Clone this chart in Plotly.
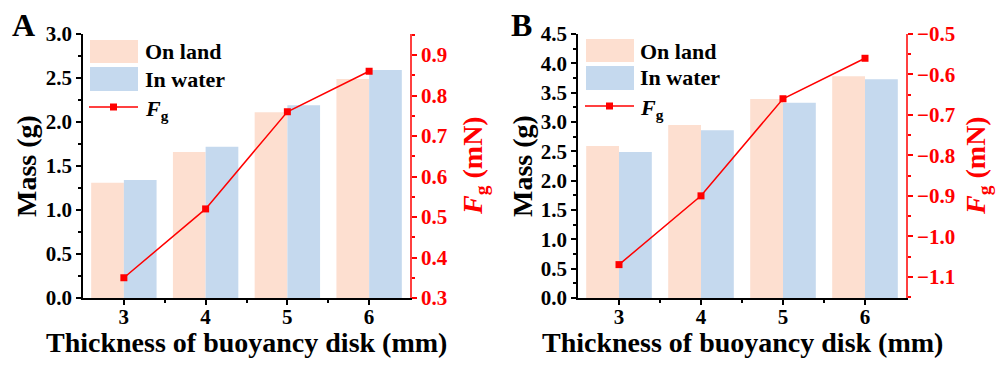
import plotly.graph_objects as go

# ---------------- data ----------------
thickness = [3, 4, 5, 6]
tick_labels = ["3", "4", "5", "6"]

a_land = [1.31, 1.66, 2.11, 2.49]
a_water = [1.34, 1.72, 2.19, 2.59]
a_fg = [0.35, 0.52, 0.76, 0.86]

b_land = [2.59, 2.95, 3.39, 3.78]
b_water = [2.49, 2.86, 3.33, 3.73]
b_fg = [-1.07, -0.90, -0.66, -0.56]

LAND = "#FDDFD0"
WATER = "#C5D9EE"
RED = "#FF0000"
FONT = "Liberation Serif"
W, H = 1000, 368

def px(x):
    return x / W

def py(y):
    return 1 - y / H

fig = go.Figure()

fig.add_trace(go.Bar(x=thickness, y=a_land, marker=dict(color=LAND, line=dict(width=0)),
                     xaxis="x", yaxis="y", name="On land", showlegend=False))
fig.add_trace(go.Bar(x=thickness, y=a_water, marker=dict(color=WATER, line=dict(width=0)),
                     xaxis="x", yaxis="y", name="In water", showlegend=False))
fig.add_trace(go.Scatter(x=thickness, y=a_fg, mode="lines+markers",
                         line=dict(color=RED, width=1.5),
                         marker=dict(symbol="square", size=7, color=RED),
                         xaxis="x", yaxis="y2", name="Fg", showlegend=False))

fig.add_trace(go.Bar(x=thickness, y=b_land, marker=dict(color=LAND, line=dict(width=0)),
                     xaxis="x2", yaxis="y3", name="On land", showlegend=False))
fig.add_trace(go.Bar(x=thickness, y=b_water, marker=dict(color=WATER, line=dict(width=0)),
                     xaxis="x2", yaxis="y3", name="In water", showlegend=False))
fig.add_trace(go.Scatter(x=thickness, y=b_fg, mode="lines+markers",
                         line=dict(color=RED, width=1.5),
                         marker=dict(symbol="square", size=7, color=RED),
                         xaxis="x2", yaxis="y4", name="Fg", showlegend=False))

ydom = [py(298), py(34)]
xa_dom = [px(83), px(410)]
xb_dom = [px(578), px(906)]

tickfont = dict(family=FONT, size=21, color="black", weight="bold")
redfont = dict(family=FONT, size=21, color=RED, weight="bold")

def xaxis_cfg(dom, anchor):
    return dict(domain=dom, anchor=anchor, range=[2.5, 6.5], tickvals=thickness,
                ticktext=tick_labels, ticks="outside", ticklen=5, tickwidth=1.5,
                tickcolor="black", showline=True, linecolor="black", linewidth=1.5,
                showgrid=False, zeroline=False, tickfont=tickfont, automargin=False,
                ticklabelstandoff=-6,
                minor=dict(tickvals=[3.5, 4.5, 5.5], ticks="outside", ticklen=3,
                           tickwidth=1.5, tickcolor="black"))

def xtop_cfg(over, anchor):
    return dict(overlaying=over, anchor=anchor, side="top", range=[2.5, 6.5],
                tickvals=thickness, ticks="inside", ticklen=5, tickwidth=1.5,
                tickcolor="black", showticklabels=False, showline=True,
                linecolor="black", linewidth=1.5, showgrid=False, zeroline=False,
                automargin=False,
                minor=dict(tickvals=[3.5, 4.5, 5.5], ticks="inside", ticklen=3,
                           tickwidth=1.5, tickcolor="black"))

def yleft_cfg(anchor, rng, dtick):
    return dict(domain=ydom, anchor=anchor, range=rng, dtick=dtick, tick0=0,
                ticks="outside", ticklen=5, tickwidth=1.5, tickcolor="black",
                showline=True, linecolor="black", linewidth=1.5, showgrid=False,
                zeroline=False, tickfont=tickfont, tickformat=".1f", automargin=False,
                minor=dict(dtick=dtick / 2, ticks="outside", ticklen=3,
                           tickwidth=1.5, tickcolor="black"))

def yright_cfg(anchor, over, rng):
    return dict(overlaying=over, anchor=anchor, side="right", range=rng, dtick=0.1,
                tick0=0.3, ticks="outside", ticklen=5, tickwidth=1.5, tickcolor=RED,
                showline=True, linecolor="#FF4040", linewidth=1.5, showgrid=False,
                zeroline=False, tickfont=redfont, tickformat=".1f", automargin=False,
                minor=dict(dtick=0.05, ticks="outside", ticklen=3, tickwidth=1.5,
                           tickcolor=RED))

fig.update_layout(
    template="none",
    width=W, height=H, margin=dict(l=0, r=0, t=0, b=0, pad=0),
    paper_bgcolor="white", plot_bgcolor="white",
    barmode="group", bargap=0.2, bargroupgap=0,
    xaxis=xaxis_cfg(xa_dom, "y"),
    xaxis2=xaxis_cfg(xb_dom, "y3"),
    xaxis3=xtop_cfg("x", "y"),
    xaxis4=xtop_cfg("x2", "y3"),
    yaxis=yleft_cfg("x", [0, 3.0], 0.5),
    yaxis2=yright_cfg("x", "y", [0.3, 0.952]),
    yaxis3=yleft_cfg("x2", [0, 4.5], 0.5),
    yaxis4=yright_cfg("x2", "y3", [-1.1525, -0.5]),
    showlegend=False,
)

ann = []
def text(x, y, s, size, color="black", angle=0, xanchor="center", yanchor="middle"):
    ann.append(dict(x=px(x), y=py(y), xref="paper", yref="paper", text=s, showarrow=False,
                    textangle=angle, xanchor=xanchor, yanchor=yanchor,
                    font=dict(family=FONT, size=size, color=color, weight="bold")))

# panel letters
text(23, 25, "A", 32)
text(521, 25, "B", 32)
# axis titles
text(246.5, 342, "Thickness of buoyancy disk (mm)", 28)
text(742, 342, "Thickness of buoyancy disk (mm)", 28)
text(26, 166, "Mass (g)", 28, angle=-90)
text(522, 166, "Mass (g)", 28, angle=-90)
text(474, 166, "<i>F</i><sub>g</sub> (mN)", 28, color=RED, angle=-90)
text(977, 166, "<i>F</i><sub>g</sub> (mN)", 28, color=RED, angle=-90)

# legends
shapes = []
def legend(x0, y0, tx):
    shapes.append(dict(type="rect", xref="paper", yref="paper", x0=px(x0), x1=px(x0 + 48),
                       y0=py(y0), y1=py(y0 + 23), fillcolor=LAND, line=dict(width=0)))
    shapes.append(dict(type="rect", xref="paper", yref="paper", x0=px(x0), x1=px(x0 + 48),
                       y0=py(y0 + 27), y1=py(y0 + 51), fillcolor=WATER, line=dict(width=0)))
    shapes.append(dict(type="line", xref="paper", yref="paper", x0=px(x0 - 1), x1=px(x0 + 48),
                       y0=py(y0 + 67), y1=py(y0 + 67), line=dict(color=RED, width=1.5)))
    shapes.append(dict(type="rect", xref="paper", yref="paper", x0=px(x0 + 20), x1=px(x0 + 27),
                       y0=py(y0 + 63.5), y1=py(y0 + 70.5), fillcolor=RED, line=dict(width=0)))
    text(tx, y0 + 12, "On land", 22, xanchor="left")
    text(tx, y0 + 39, "In water", 22, xanchor="left")
    text(tx, y0 + 70, "<i>F</i><sub>g</sub>", 22, xanchor="left")

legend(90, 40, 143)
legend(586, 39, 638)

fig.update_layout(annotations=ann, shapes=shapes)
fig.write_html("out.html")
